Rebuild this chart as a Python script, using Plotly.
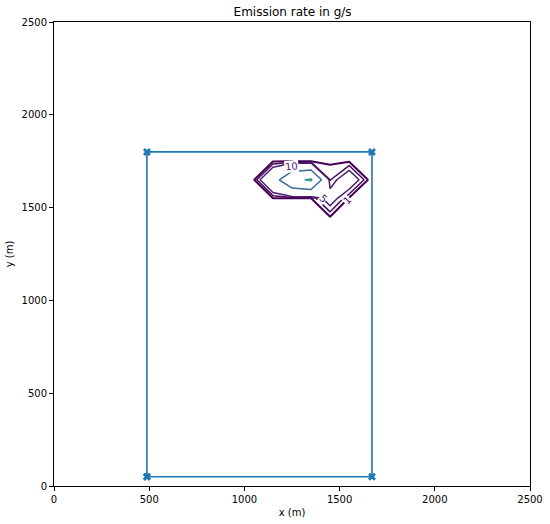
import plotly.graph_objects as go

# emission field on a coarse 100 m grid (g/s)
grid_x = [950, 1050, 1150, 1250, 1350, 1450, 1550, 1650, 1750]
grid_y = [1350, 1450, 1550, 1650, 1750, 1850]
emission = [
    [0, 0, 0, 0, 0, 0, 0, 0, 0],
    [0, 0, 0, 0, 0, 0.9, 0, 0, 0],
    [0, 0, 0.8, 0.9, 0.9, 16, 0.5, 0, 0],
    [0, 0.6, 30, 90, 105, 4.5, 20, 0.8, 0],
    [0, 0, 0.5, 0.5, 0.5, 0.2, 0.4, 0, 0],
    [0, 0, 0, 0, 0, 0, 0, 0, 0],
]
levels = [1, 5, 10, 50, 100]
level_colors = ["#440154", "#46085c", "#4b1c72", "#3b6a9a", "#21a08a"]

# inline contour labels (text, x, y, angle)
label_text = ["10", "5", "1"]
label_x = [1245, 1414, 1539]
label_y = [1724, 1548, 1540]
label_angle = [-6, 40, -45]
label_color = ["#4b1c72", "#46085c", "#440154"]

# domain boundary (m)
box_x = [488, 1670, 1670, 488, 488]
box_y = [50, 50, 1800, 1800, 50]

fig = go.Figure()

for lev, col in zip(levels, level_colors):
    fig.add_trace(
        go.Contour(
            x=grid_x,
            y=grid_y,
            z=emission,
            colorscale=[[0, col], [1, col]],
            showscale=False,
            contours=dict(start=lev, end=lev, size=1, coloring="lines"),
            line=dict(width=2 if lev == 1 else 1.5, smoothing=0),
            hoverinfo="skip",
        )
    )

fig.add_trace(
    go.Scatter(
        x=box_x,
        y=box_y,
        mode="lines+markers",
        line=dict(color="#1f77b4", width=1.6),
        marker=dict(symbol="x", size=7, color="#1f77b4"),
        showlegend=False,
    )
)

for t, lx, ly, ang, col in zip(label_text, label_x, label_y, label_angle, label_color):
    fig.add_annotation(
        x=lx, y=ly, text=t, textangle=ang, showarrow=False,
        font=dict(size=10, color=col), bgcolor="white", borderpad=0,
    )

axis_style = dict(
    range=[0, 2500],
    dtick=500,
    showgrid=False,
    zeroline=False,
    showline=True,
    linecolor="black",
    linewidth=1,
    mirror=True,
    ticks="outside",
    ticklen=4,
    tickcolor="black",
    tickfont=dict(size=10, color="black"),
    automargin=False,
)

fig.update_layout(
    width=550,
    height=524,
    margin=dict(l=54, r=20, t=22, b=38),
    plot_bgcolor="white",
    paper_bgcolor="white",
    font=dict(family="DejaVu Sans", color="black"),
    title=dict(
        text="Emission rate in g/s",
        x=0.532,
        xanchor="center",
        y=0.977,
        yanchor="middle",
        font=dict(size=12),
    ),
    xaxis=dict(axis_style, title=dict(text="x (m)", font=dict(size=10), standoff=4)),
    yaxis=dict(axis_style, title=dict(text="y (m)", font=dict(size=10), standoff=6)),
    showlegend=False,
)

fig.write_html(
    "out.html",
    config={"displayModeBar": False},
    post_script="document.body.style.margin='0';",
)
